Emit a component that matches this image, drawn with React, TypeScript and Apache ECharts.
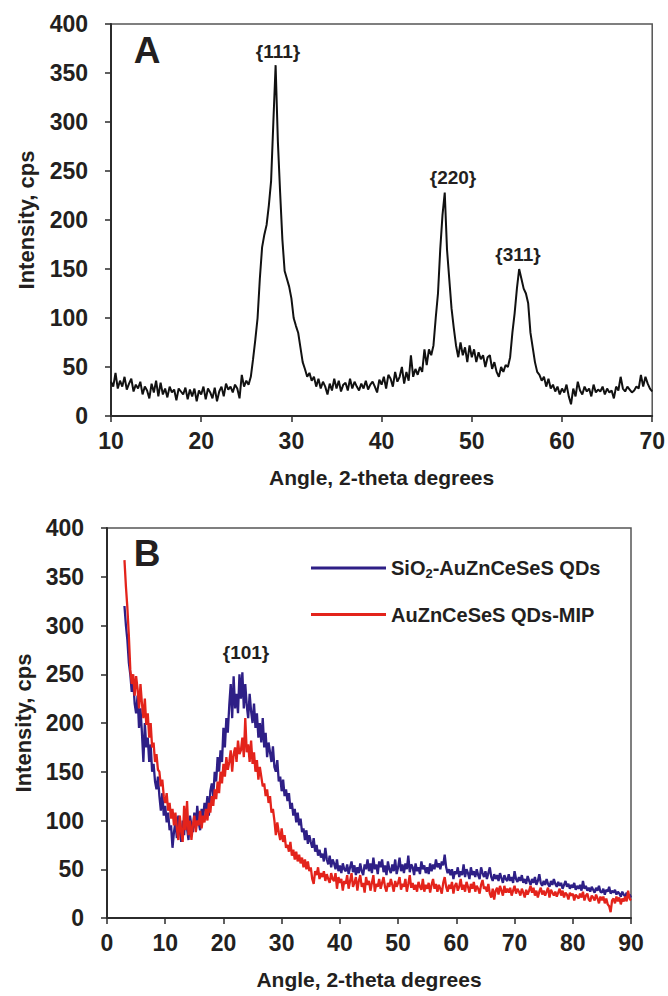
import React, { useEffect, useRef } from "react";
import * as echarts from "echarts";

// ---------- Panel A ----------
const angleStartA = 10;
const angleStepA = 0.25;
const intensityA = [
  35, 30, 44, 28, 36, 30, 40, 27, 33, 38, 25, 32, 28, 35, 22, 30,
  26, 18, 33, 24, 36, 20, 34, 22, 28, 19, 30, 24, 27, 16, 28, 25,
  22, 29, 17, 27, 20, 28, 15, 26, 22, 30, 17, 28, 24, 18, 29, 15,
  25, 30, 20, 33, 27, 30, 24, 32, 28, 18, 42, 30, 36, 32, 40, 58,
  78, 100, 140, 172, 185, 195, 215, 240, 300, 358, 280, 228, 180, 148, 140, 132,
  120, 100, 92, 85, 70, 55, 48, 40, 44, 36, 40, 30, 38, 28, 35, 30,
  22, 33, 26, 38, 28, 36, 25, 32, 34, 26, 38, 28, 35, 30, 26, 33,
  28, 36, 27, 32, 35, 30, 24, 37, 32, 40, 28, 42, 38, 30, 45, 35,
  40, 50, 33, 45, 36, 62, 40, 48, 42, 50, 45, 68, 52, 68, 62, 72,
  100, 125, 170, 205, 228, 170, 140, 110, 90, 72, 60, 75, 62, 70, 55, 72,
  60, 68, 55, 65, 58, 62, 50, 60, 62, 48, 55, 45, 40, 50, 45, 52,
  50, 60, 85, 105, 130, 150, 140, 130, 125, 115, 85, 70, 55, 45, 42, 36,
  40, 30, 38, 28, 32, 25, 30, 22, 28, 24, 32, 20, 12, 28, 20, 35,
  26, 22, 30, 25, 28, 20, 32, 24, 27, 25, 30, 22, 28, 24, 26, 18,
  30, 26, 40, 28, 25, 30, 27, 24, 26, 30, 28, 42, 30, 40, 33, 28,
  25,
];
const peakLabelsA = ["{111}", "{220}", "{311}"];

// ---------- Panel B ----------
const angleStartB = 3;
const angleStepB = 0.25;
const seriesNamesB = ["SiO2-AuZnCeSeS QDs", "AuZnCeSeS QDs-MIP"];
const intensityBlue = [
  320, 300, 285, 262, 250, 232, 244, 220,
  210, 228, 195, 215, 190, 160, 200, 175,
  185, 160, 178, 150, 158, 140, 132, 145,
  125, 110, 128, 105, 115, 98, 108, 90,
  95, 72, 88, 98, 82, 105, 90, 78,
  100, 85, 110, 92, 80, 105, 95, 88,
  108, 92, 115, 98, 90, 112, 102, 118,
  110, 125, 105, 130, 138, 125, 150, 140,
  165, 150, 172, 160, 195, 175, 205, 190,
  218, 240, 205, 248, 215, 230, 210, 250,
  225, 252, 215, 240, 218, 205, 230, 212,
  200, 220, 195, 210, 185, 200, 180, 205,
  175, 190, 165, 180, 170, 160, 176, 155,
  150, 162, 140, 145, 130, 142, 125, 132,
  120, 128, 112, 118, 105, 112, 98, 108,
  95, 102, 88, 92, 80, 90, 76, 85,
  78, 72, 82, 68, 75, 64, 70, 62,
  66, 58, 72, 60, 55, 64, 52, 60,
  56, 50, 60, 48, 54, 46, 56, 50,
  48, 55, 45, 52, 58, 47, 54, 44,
  52, 46, 56, 48, 44, 55, 50, 60,
  48, 56, 46, 62, 50, 55, 45, 58,
  52, 60, 47, 54, 44, 58, 50, 46,
  55, 48, 60, 45, 52, 62, 48, 55,
  46, 56, 50, 64, 47, 55, 52, 44,
  56, 48, 52, 45, 58, 50, 54, 46,
  52, 45, 56, 48, 55, 50, 60, 52,
  56, 50, 58, 54, 65, 52, 46, 50,
  44, 50, 40, 48, 45, 52, 42, 48,
  44, 55, 42, 50, 46, 40, 52, 44,
  48, 42, 50, 44, 40, 52, 46, 42,
  48, 40, 46, 52, 42, 38, 45, 40,
  44, 38, 46, 41, 36, 44, 40, 38,
  45, 38, 42, 36, 48, 40, 37, 42,
  38, 44, 36, 40, 35, 43, 38, 34,
  40, 36, 42, 34, 38, 45, 36, 33,
  38, 34, 40, 35, 32, 38, 34, 40,
  35, 32, 37, 33, 36, 30, 34, 38,
  32, 35, 30, 34, 31, 36, 29, 33,
  30, 34, 28, 38, 30, 33, 28, 31,
  27, 32, 29, 26, 31, 28, 33, 27,
  26, 30, 24, 29, 27, 32, 25, 28,
  26, 29, 24, 27, 25, 22, 27, 24,
  22, 26, 21, 24, 21,
];
const intensityRed = [
  367, 340, 318, 290, 255, 240, 250, 228,
  248, 235, 215, 240, 220, 205, 225, 198,
  210, 185, 200, 175, 180, 160, 168, 152,
  150, 135, 142, 125, 118, 128, 110, 118,
  102, 112, 95, 108, 92, 80, 105, 88,
  78, 115, 90, 120, 85, 100, 80, 95,
  105, 88, 100, 95, 110, 92, 105, 98,
  112, 100, 118, 108, 125, 115, 132, 122,
  140, 128, 150, 138, 158, 145, 165, 152,
  160, 172, 150, 168, 175, 160, 182, 168,
  172, 185, 165, 205, 170, 178, 160, 182,
  158, 170, 150, 162, 142, 155, 145, 135,
  138, 125, 132, 118, 125, 108, 112, 100,
  85, 98, 88, 80, 92, 78, 85, 72,
  75, 68, 78, 64, 70, 60, 68, 58,
  65, 56, 62, 52, 60, 50, 58, 48,
  52, 40, 35, 48, 44, 52, 40, 46,
  42, 48, 38, 45, 40, 36, 46, 40,
  38, 46, 30, 42, 36, 40, 28, 38,
  35, 44, 30, 38, 46, 32, 36, 42,
  28, 38, 44, 32, 36, 26, 42, 34,
  38, 28, 36, 44, 27, 35, 32, 40,
  30, 36, 42, 32, 27, 36, 32, 40,
  34, 27, 38, 32, 36, 42, 29, 35,
  32, 40, 27, 35, 44, 31, 36, 29,
  34, 27, 37, 32, 29, 40, 27, 34,
  30, 36, 26, 34, 40, 30, 35, 27,
  34, 30, 25, 36, 42, 32, 27, 34,
  30, 37, 25, 33, 36, 28, 32, 40,
  29, 34, 27, 37, 32, 26, 35, 30,
  37, 27, 33, 30, 25, 34, 39, 30,
  32, 27, 35, 25, 21, 30, 19, 28,
  31, 24, 33, 28, 23, 33, 26, 30,
  26, 31, 23, 28, 33, 25, 30, 27,
  23, 30, 26, 21, 29, 24, 28, 33,
  26, 31, 23, 28, 21, 27, 31, 24,
  28, 23, 27, 31, 21, 29, 26, 23,
  27, 22, 26, 30, 23, 28, 21, 26,
  24, 19, 26, 23, 25, 18, 24, 22,
  20, 25, 21, 27, 18, 23, 25, 19,
  17, 23, 21, 18, 24, 20, 15, 22,
  18, 22, 15, 20, 14, 12, 6, 18,
  20, 15, 22, 17, 21, 14, 20, 17,
  22, 17, 28, 20, 18,
];
const peakLabelB = "{101}";

const TEXT = "#231f20";
const FONT = "'Liberation Sans', Arial, Helvetica, sans-serif";

function toPairs(start: number, step: number, vals: number[]) {
  return vals.map((v, i) => [+(start + i * step).toFixed(2), v]);
}

export default function App() {
  const ref = useRef<HTMLDivElement>(null);
  useEffect(() => {
    if (!ref.current) return;
    const chart = echarts.init(ref.current, undefined, { renderer: "svg" });
    const axisLabel = { color: TEXT, fontSize: 23, fontWeight: "bold", fontFamily: FONT };
    const xNameText = { color: TEXT, fontSize: 21, fontWeight: "bold", fontFamily: FONT };
    const yNameText = { color: TEXT, fontSize: 22, fontWeight: "bold", fontFamily: FONT };
    const axisLine = { show: true, lineStyle: { color: "#2b2b2b", width: 2 } };
    const axisTick = { show: true, inside: false, length: 6, lineStyle: { color: "#2b2b2b", width: 1.5 } };
    const mkX = (idx: number, min: number, max: number, gap: number) => ({
      type: "value", gridIndex: idx, min, max, interval: 10,
      name: "Angle, 2-theta degrees", nameLocation: "middle", nameGap: gap, nameTextStyle: xNameText,
      axisLine, axisTick, axisLabel: { ...axisLabel, margin: 13 }, splitLine: { show: false },
    });
    const mkY = (idx: number, gap: number) => ({
      type: "value", gridIndex: idx, min: 0, max: 400, interval: 50,
      name: "Intensity, cps", nameLocation: "middle", nameGap: gap, nameTextStyle: yNameText,
      axisLine, axisTick, axisLabel: { ...axisLabel, margin: 23 }, splitLine: { show: false },
    });
    const txt = (text: string, x: number, y: number, size: number) => ({
      type: "text", x, y, silent: true,
      style: { text, fill: TEXT, fontSize: size, fontWeight: "bold", fontFamily: FONT, align: "center", verticalAlign: "middle" },
    });
    chart.setOption({
      animation: false,
      backgroundColor: "#fff",
      grid: [
        { left: 111, top: 24, width: 543, height: 392, show: true, borderColor: "#555", borderWidth: 1.5, backgroundColor: "transparent" },
        { left: 107, top: 528, width: 524, height: 390, show: true, borderColor: "#555", borderWidth: 1.5, backgroundColor: "transparent" },
      ],
      xAxis: [mkX(0, 10, 70, 51), mkX(1, 0, 90, 51)],
      yAxis: [mkY(0, 74), mkY(1, 71)],
      legend: {
        orient: "vertical", left: 306, top: 553, itemWidth: 75, itemHeight: 3, itemGap: 25, icon: "rect",
        data: seriesNamesB,
        formatter: (n: string) => (n === seriesNamesB[0] ? "SiO{sub|2}-AuZnCeSeS QDs" : n),
        textStyle: {
          color: TEXT, fontSize: 20, fontWeight: "bold", fontFamily: FONT,
          rich: { sub: { fontSize: 13, fontWeight: "bold", fontFamily: FONT, color: TEXT, padding: [10, 0, 0, 0] } },
        },
      },
      series: [
        {
          type: "line", name: "Panel A", xAxisIndex: 0, yAxisIndex: 0, showSymbol: false,
          data: toPairs(angleStartA, angleStepA, intensityA),
          lineStyle: { color: "#111", width: 2 }, itemStyle: { color: "#111" },
        },
        {
          type: "line", name: seriesNamesB[0], xAxisIndex: 1, yAxisIndex: 1, showSymbol: false,
          data: toPairs(angleStartB, angleStepB, intensityBlue),
          lineStyle: { color: "#2e1f86", width: 2.3 }, itemStyle: { color: "#2e1f86" },
        },
        {
          type: "line", name: seriesNamesB[1], xAxisIndex: 1, yAxisIndex: 1, showSymbol: false,
          data: toPairs(angleStartB, angleStepB, intensityRed),
          lineStyle: { color: "#e3231b", width: 2.3 }, itemStyle: { color: "#e3231b" },
        },
      ],
      graphic: [
        txt("A", 147, 50, 37),
        txt("B", 147, 553, 37),
        txt(peakLabelsA[0], 278, 51, 19),
        txt(peakLabelsA[1], 453, 177, 19),
        txt(peakLabelsA[2], 518, 254, 19),
        txt(peakLabelB, 246, 652, 19),
      ],
    });
    return () => chart.dispose();
  }, []);
  return <div ref={ref} style={{ position: "absolute", left: 0, top: 0, width: 668, height: 996 }} />;
}
